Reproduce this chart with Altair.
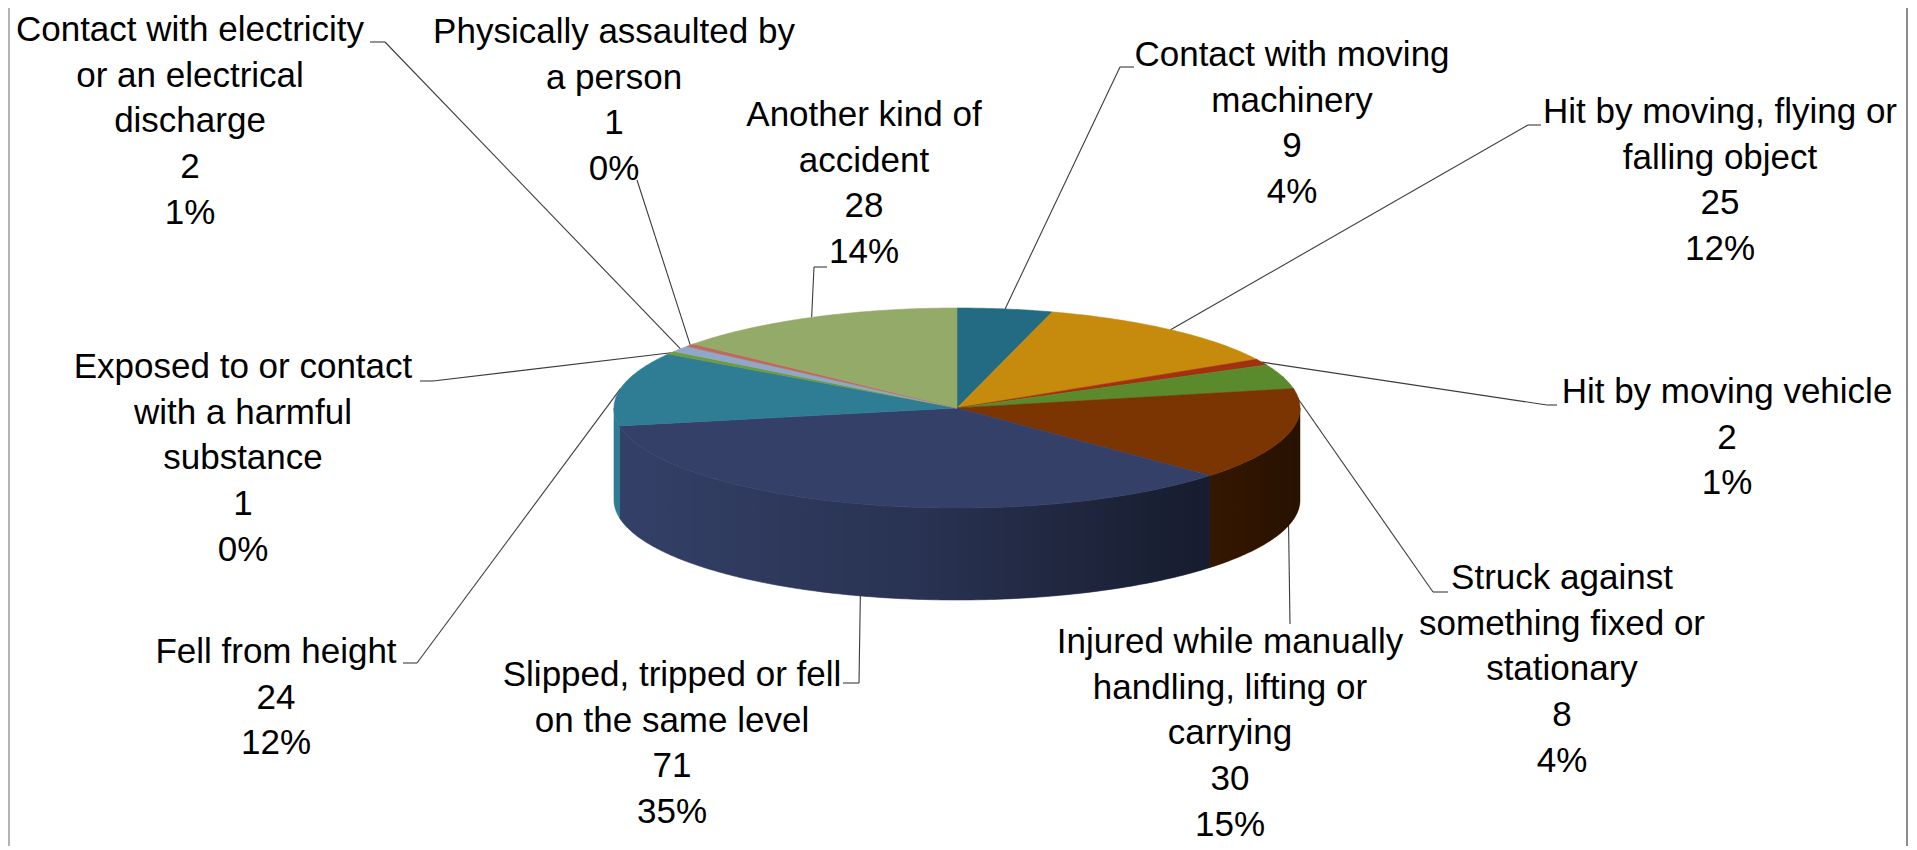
import math
import altair as alt
import pandas as pd

# ---------------- data ----------------
categories = [
    "Contact with moving machinery",
    "Hit by moving, flying or falling object",
    "Hit by moving vehicle",
    "Struck against something fixed or stationary",
    "Injured while manually handling, lifting or carrying",
    "Slipped, tripped or fell on the same level",
    "Fell from height",
    "Exposed to or contact with a harmful substance",
    "Contact with electricity or an electrical discharge",
    "Physically assaulted by a person",
    "Another kind of accident",
]
counts = [9, 25, 2, 8, 30, 71, 24, 1, 2, 1, 28]

# ---------------- styles ----------------
top_colors = [
    "#226B83", "#C68A0C", "#A3300F", "#5B8A2C", "#7A3503", "#344068",
    "#2E7D95", "#6E9C3C", "#8FA7C9", "#C0695A", "#94AA69",
]

# ---------------- label layout (page pixels) ----------------
label_lines = [
    ["Contact with moving", "machinery"],
    ["Hit by moving, flying or", "falling object"],
    ["Hit by moving vehicle"],
    ["Struck against", "something fixed or", "stationary"],
    ["Injured while manually", "handling, lifting or", "carrying"],
    ["Slipped, tripped or fell", "on the same level"],
    ["Fell from height"],
    ["Exposed to or contact", "with a harmful", "substance"],
    ["Contact with electricity", "or an electrical", "discharge"],
    ["Physically assaulted by", "a person"],
    ["Another kind of", "accident"],
]
label_cx = [1292, 1720, 1727, 1562, 1230, 672, 276, 243, 190, 614, 864]
label_y0 = [55, 112, 392, 578, 642, 675, 652, 367, 30, 32, 115]
anchor_x = [1120, 1528, 1547, 1433, 1290, 859, 417, 433, 385, 637, 814]
anchor_y = [67, 125, 405, 592, 624, 683, 663, 381, 42, 180, 267]
tick_x = [1134, 1541, 1557, 1448, None, 843, 403, 420, 370, None, 827]

W, H = 1900, 838
OFF = 8
CX, CY, RX, RY, DEPTH = 949, 400, 343, 100, 92
LINE_H = 45.7
FONT = "Liberation Sans"
FS = 35

total = sum(counts)


def ex(t):
    return CX + RX * math.sin(math.radians(t))


def ey(t):
    return CY - RY * math.cos(math.radians(t))


def arc(a0, a1):
    n = max(2, int(math.ceil((a1 - a0) / 0.75)) + 1)
    return [a0 + (a1 - a0) * j / (n - 1) for j in range(n)]


top_rows, side_rows, shade_rows, rule_rows, text_rows = [], [], [], [], []
cum = 0
for i, (cat, v) in enumerate(zip(categories, counts)):
    a0 = cum / total * 360
    cum += v
    a1 = cum / total * 360
    # top face polygon
    top_rows.append({"cat": cat, "k": 0, "x": CX, "y": CY})
    for k, t in enumerate(arc(a0, a1), start=1):
        top_rows.append({"cat": cat, "k": k, "x": ex(t), "y": ey(t)})
    # front wall
    b0, b1 = max(a0, 90), min(a1, 270)
    if b1 > b0:
        for t in arc(b0, b1):
            side_rows.append({"cat": cat, "x": ex(t), "y": ey(t), "y2": ey(t) + DEPTH})
    # leader line
    mid = (a0 + a1) / 2
    ax, ay = anchor_x[i] - OFF, anchor_y[i] - OFF
    rule_rows.append({"x": ax, "y": ay, "x2": ex(mid), "y2": ey(mid)})
    if tick_x[i] is not None:
        rule_rows.append({"x": tick_x[i] - OFF, "y": ay, "x2": ax, "y2": ay})
    # label text
    pct = round(v / total * 100)
    lines = label_lines[i] + [str(v), f"{pct}%"]
    for j, s in enumerate(lines):
        text_rows.append({"t": s, "x": label_cx[i] - OFF, "y": label_y0[i] - OFF + j * LINE_H})

for t in arc(90, 270):
    shade_rows.append({"x": ex(t), "y": ey(t), "y2": ey(t) + DEPTH})

top_df = pd.DataFrame(top_rows)
side_df = pd.DataFrame(side_rows)
shade_df = pd.DataFrame(shade_rows)
rule_df = pd.DataFrame(rule_rows)
text_df = pd.DataFrame(text_rows)

xs = alt.Scale(domain=[0, W], nice=False, zero=False)
ys = alt.Scale(domain=[0, H], reverse=True, nice=False, zero=False)
cscale = alt.Scale(domain=categories, range=top_colors)

X = alt.X("x:Q", scale=xs, axis=None)
Y = alt.Y("y:Q", scale=ys, axis=None)

leaders = alt.Chart(rule_df).mark_rule(color="#3c3c3c", strokeWidth=1.1).encode(
    x=X, y=Y, x2="x2:Q", y2="y2:Q"
)

sides = alt.Chart(side_df).mark_area(strokeWidth=0.6).encode(
    x=X,
    y=alt.Y("y:Q", scale=ys, axis=None, stack=None),
    y2="y2:Q",
    fill=alt.Fill("cat:N", scale=cscale, legend=None),
    stroke=alt.Stroke("cat:N", scale=cscale, legend=None),
    detail="cat:N",
)

shade = alt.Chart(shade_df).mark_area(
    color=alt.Gradient(
        gradient="linear",
        stops=[
            alt.GradientStop(color="rgba(0,0,0,0.0)", offset=0),
            alt.GradientStop(color="rgba(0,0,0,0.22)", offset=0.45),
            alt.GradientStop(color="rgba(0,0,0,0.68)", offset=1),
        ],
        x1=0, x2=1, y1=0, y2=0,
    )
).encode(x=X, y=alt.Y("y:Q", scale=ys, axis=None, stack=None), y2="y2:Q")

tops = alt.Chart(top_df).mark_line(interpolate="linear-closed", strokeWidth=0.6).encode(
    x=X,
    y=Y,
    fill=alt.Fill("cat:N", scale=cscale, legend=None),
    stroke=alt.Stroke("cat:N", scale=cscale, legend=None),
    detail="cat:N",
    order=alt.Order("k:Q"),
)

texts = alt.Chart(text_df).mark_text(
    font=FONT, fontSize=FS, align="center", baseline="middle", color="#000000"
).encode(x=X, y=Y, text="t:N")

left_edge = alt.Chart(rule_df).mark_rule(color="#b4b4b4", strokeWidth=1.5).encode(
    x=alt.value(0.75), y=alt.value(0), y2=alt.value(H)
)
right_edge = alt.Chart(rule_df).mark_rule(color="#8c8c8c", strokeWidth=1.5).encode(
    x=alt.value(W - 0.75), y=alt.value(0), y2=alt.value(H)
)

chart = (
    alt.layer(leaders, sides, shade, tops, texts, left_edge, right_edge)
    .properties(width=W, height=H, padding=0, autosize=alt.AutoSizeParams(type="none"))
    .configure_view(strokeWidth=0)
)

chart.save("out.html", embed_options={"renderer": "svg", "actions": False})
